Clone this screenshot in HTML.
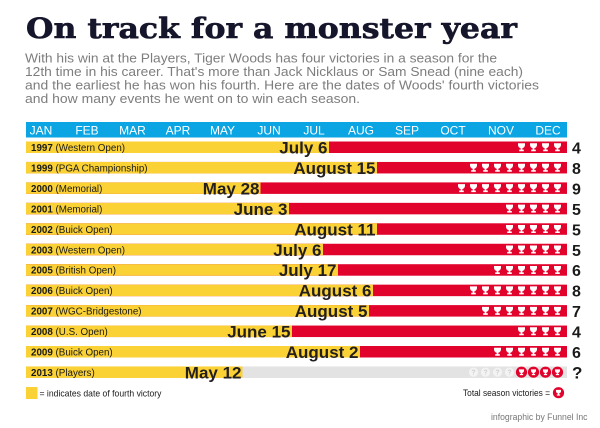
<!DOCTYPE html>
<html><head><meta charset="utf-8"><style>
html,body{margin:0;padding:0;background:#fff;}
svg{display:block;}
</style></head><body>
<svg width="600" height="428" viewBox="0 0 600 428" xmlns="http://www.w3.org/2000/svg" font-family="'Liberation Sans', sans-serif">
<defs>
<path id="t" d="M-3.5,-4 H3.5 V-2.6 C3.5,-0.2 1.8,0.9 0.8,1 V2.4 H2.3 V4 H-2.3 V2.4 H-0.8 V1 C-1.8,0.9 -3.5,-0.2 -3.5,-2.6 Z" fill="#fff"/>
</defs>
<rect width="600" height="428" fill="#fff"/>
<!-- Title -->
<text x="26" y="38" font-family="'DejaVu Serif', serif" font-weight="bold" font-size="28" fill="#15152b" stroke="#15152b" stroke-width="0.6" textLength="491" lengthAdjust="spacingAndGlyphs">On track for a monster year</text>
<!-- Paragraph -->
<g font-size="13" fill="#7d7d7d">
<text x="25" y="62.5" textLength="472" lengthAdjust="spacingAndGlyphs">With his win at the Players, Tiger Woods has four victories in a season for the</text>
<text x="25" y="76" textLength="498" lengthAdjust="spacingAndGlyphs">12th time in his career. That's more than Jack Nicklaus or Sam Snead (nine each)</text>
<text x="25" y="89.5" textLength="514" lengthAdjust="spacingAndGlyphs">and the earliest he has won his fourth. Here are the dates of Woods' fourth victories</text>
<text x="25" y="103" textLength="335" lengthAdjust="spacingAndGlyphs">and how many events he went on to win each season.</text>
</g>
<!-- Header -->
<rect x="26" y="122" width="541" height="15.5" fill="#0aa5e2"/>
<g font-size="12" fill="#fff" text-anchor="middle">
<text x="41" y="134.5">JAN</text>
<text x="87" y="134.5">FEB</text>
<text x="132.5" y="134.5">MAR</text>
<text x="178" y="134.5">APR</text>
<text x="222.5" y="134.5">MAY</text>
<text x="269" y="134.5">JUN</text>
<text x="314" y="134.5">JUL</text>
<text x="361" y="134.5">AUG</text>
<text x="407" y="134.5">SEP</text>
<text x="453" y="134.5">OCT</text>
<text x="501" y="134.5">NOV</text>
<text x="548" y="134.5">DEC</text>
</g>

<!-- Rows -->
<g id="rows">
<rect x="26" y="141.5" width="541" height="11.5" fill="#e2032d"/>
<rect x="26" y="141.5" width="303" height="11.5" fill="#fbd236"/>
<rect x="26" y="161.95" width="541" height="11.5" fill="#e2032d"/>
<rect x="26" y="161.95" width="351" height="11.5" fill="#fbd236"/>
<rect x="26" y="182.4" width="541" height="11.5" fill="#e2032d"/>
<rect x="26" y="182.4" width="234.5" height="11.5" fill="#fbd236"/>
<rect x="26" y="202.85" width="541" height="11.5" fill="#e2032d"/>
<rect x="26" y="202.85" width="263" height="11.5" fill="#fbd236"/>
<rect x="26" y="223.3" width="541" height="11.5" fill="#e2032d"/>
<rect x="26" y="223.3" width="351" height="11.5" fill="#fbd236"/>
<rect x="26" y="243.75" width="541" height="11.5" fill="#e2032d"/>
<rect x="26" y="243.75" width="297" height="11.5" fill="#fbd236"/>
<rect x="26" y="264.2" width="541" height="11.5" fill="#e2032d"/>
<rect x="26" y="264.2" width="312" height="11.5" fill="#fbd236"/>
<rect x="26" y="284.65" width="541" height="11.5" fill="#e2032d"/>
<rect x="26" y="284.65" width="347" height="11.5" fill="#fbd236"/>
<rect x="26" y="305.1" width="541" height="11.5" fill="#e2032d"/>
<rect x="26" y="305.1" width="343" height="11.5" fill="#fbd236"/>
<rect x="26" y="325.55" width="541" height="11.5" fill="#e2032d"/>
<rect x="26" y="325.55" width="266" height="11.5" fill="#fbd236"/>
<rect x="26" y="346" width="541" height="11.5" fill="#e2032d"/>
<rect x="26" y="346" width="334" height="11.5" fill="#fbd236"/>
<rect x="26" y="366.45" width="541" height="11.5" fill="#e3e3e3"/>
<rect x="26" y="366.45" width="216.5" height="11.5" fill="#fbd236"/>
</g>

<!-- Row labels -->
<g font-size="9.8" fill="#1a1a1a">
<text x="31" y="151"><tspan font-weight="bold">1997</tspan> (Western Open)</text>
<text x="31" y="171.45"><tspan font-weight="bold">1999</tspan> (PGA Championship)</text>
<text x="31" y="191.9"><tspan font-weight="bold">2000</tspan> (Memorial)</text>
<text x="31" y="212.35"><tspan font-weight="bold">2001</tspan> (Memorial)</text>
<text x="31" y="232.8"><tspan font-weight="bold">2002</tspan> (Buick Open)</text>
<text x="31" y="253.25"><tspan font-weight="bold">2003</tspan> (Western Open)</text>
<text x="31" y="273.7"><tspan font-weight="bold">2005</tspan> (British Open)</text>
<text x="31" y="294.15"><tspan font-weight="bold">2006</tspan> (Buick Open)</text>
<text x="31" y="314.6"><tspan font-weight="bold">2007</tspan> (WGC-Bridgestone)</text>
<text x="31" y="335.05"><tspan font-weight="bold">2008</tspan> (U.S. Open)</text>
<text x="31" y="355.5"><tspan font-weight="bold">2009</tspan> (Buick Open)</text>
<text x="31" y="375.95"><tspan font-weight="bold">2013</tspan> (Players)</text>
</g>

<!-- Date labels -->
<g font-size="17" font-weight="bold" fill="#231f20" text-anchor="end">
<text x="327.5" y="153.5">July 6</text>
<text x="375.5" y="173.95">August 15</text>
<text x="259.5" y="194.4">May 28</text>
<text x="287.5" y="214.85">June 3</text>
<text x="375.5" y="235.3">August 11</text>
<text x="321.5" y="255.75">July 6</text>
<text x="336.5" y="276.2">July 17</text>
<text x="371.5" y="296.65">August 6</text>
<text x="367.5" y="317.1">August 5</text>
<text x="290.5" y="337.55">June 15</text>
<text x="358.5" y="358">August 2</text>
<text x="241.5" y="378.45">May 12</text>
</g>

<!-- Right numbers -->
<g font-size="16" font-weight="bold" fill="#1a1a1a">
<text x="572" y="153.5">4</text>
<text x="572" y="173.95">8</text>
<text x="572" y="194.4">9</text>
<text x="572" y="214.85">5</text>
<text x="572" y="235.3">5</text>
<text x="572" y="255.75">5</text>
<text x="572" y="276.2">6</text>
<text x="572" y="296.65">8</text>
<text x="572" y="317.1">7</text>
<text x="572" y="337.55">4</text>
<text x="572" y="358">6</text>
<text x="572" y="378.6" font-size="17">?</text>
</g>

<!-- Trophies -->
<g>
<use href="#t" x="521.5" y="147.25"/><use href="#t" x="533.5" y="147.25"/><use href="#t" x="545.5" y="147.25"/><use href="#t" x="557.5" y="147.25"/>
<use href="#t" x="473.5" y="167.7"/><use href="#t" x="485.5" y="167.7"/><use href="#t" x="497.5" y="167.7"/><use href="#t" x="509.5" y="167.7"/><use href="#t" x="521.5" y="167.7"/><use href="#t" x="533.5" y="167.7"/><use href="#t" x="545.5" y="167.7"/><use href="#t" x="557.5" y="167.7"/>
<use href="#t" x="461.5" y="188.15"/><use href="#t" x="473.5" y="188.15"/><use href="#t" x="485.5" y="188.15"/><use href="#t" x="497.5" y="188.15"/><use href="#t" x="509.5" y="188.15"/><use href="#t" x="521.5" y="188.15"/><use href="#t" x="533.5" y="188.15"/><use href="#t" x="545.5" y="188.15"/><use href="#t" x="557.5" y="188.15"/>
<use href="#t" x="509.5" y="208.6"/><use href="#t" x="521.5" y="208.6"/><use href="#t" x="533.5" y="208.6"/><use href="#t" x="545.5" y="208.6"/><use href="#t" x="557.5" y="208.6"/>
<use href="#t" x="509.5" y="229.05"/><use href="#t" x="521.5" y="229.05"/><use href="#t" x="533.5" y="229.05"/><use href="#t" x="545.5" y="229.05"/><use href="#t" x="557.5" y="229.05"/>
<use href="#t" x="509.5" y="249.5"/><use href="#t" x="521.5" y="249.5"/><use href="#t" x="533.5" y="249.5"/><use href="#t" x="545.5" y="249.5"/><use href="#t" x="557.5" y="249.5"/>
<use href="#t" x="497.5" y="269.95"/><use href="#t" x="509.5" y="269.95"/><use href="#t" x="521.5" y="269.95"/><use href="#t" x="533.5" y="269.95"/><use href="#t" x="545.5" y="269.95"/><use href="#t" x="557.5" y="269.95"/>
<use href="#t" x="473.5" y="290.4"/><use href="#t" x="485.5" y="290.4"/><use href="#t" x="497.5" y="290.4"/><use href="#t" x="509.5" y="290.4"/><use href="#t" x="521.5" y="290.4"/><use href="#t" x="533.5" y="290.4"/><use href="#t" x="545.5" y="290.4"/><use href="#t" x="557.5" y="290.4"/>
<use href="#t" x="485.5" y="310.85"/><use href="#t" x="497.5" y="310.85"/><use href="#t" x="509.5" y="310.85"/><use href="#t" x="521.5" y="310.85"/><use href="#t" x="533.5" y="310.85"/><use href="#t" x="545.5" y="310.85"/><use href="#t" x="557.5" y="310.85"/>
<use href="#t" x="521.5" y="331.3"/><use href="#t" x="533.5" y="331.3"/><use href="#t" x="545.5" y="331.3"/><use href="#t" x="557.5" y="331.3"/>
<use href="#t" x="497.5" y="351.75"/><use href="#t" x="509.5" y="351.75"/><use href="#t" x="521.5" y="351.75"/><use href="#t" x="533.5" y="351.75"/><use href="#t" x="545.5" y="351.75"/><use href="#t" x="557.5" y="351.75"/>
</g>

<!-- 2013 row icons -->
<g>
<circle cx="473.5" cy="372.2" r="4.6" fill="#f3f3f3"/>
<circle cx="485.5" cy="372.2" r="4.6" fill="#f3f3f3"/>
<circle cx="497.5" cy="372.2" r="4.6" fill="#f3f3f3"/>
<circle cx="509.5" cy="372.2" r="4.6" fill="#f3f3f3"/>
<g font-size="7" font-weight="bold" fill="#cfcfcf" text-anchor="middle">
<text x="473.5" y="374.7">?</text><text x="485.5" y="374.7">?</text><text x="497.5" y="374.7">?</text><text x="509.5" y="374.7">?</text>
</g>
<circle cx="521.5" cy="372.2" r="5.6" fill="#e2032d"/>
<circle cx="533.5" cy="372.2" r="5.6" fill="#e2032d"/>
<circle cx="545.5" cy="372.2" r="5.6" fill="#e2032d"/>
<circle cx="557.5" cy="372.2" r="5.6" fill="#e2032d"/>
<use href="#t" transform="translate(521.5 372.2) scale(0.72)"/>
<use href="#t" transform="translate(533.5 372.2) scale(0.72)"/>
<use href="#t" transform="translate(545.5 372.2) scale(0.72)"/>
<use href="#t" transform="translate(557.5 372.2) scale(0.72)"/>
</g>

<!-- Legend -->
<rect x="26" y="387" width="11.5" height="12" fill="#fbd236"/>
<text x="39.5" y="396.5" font-size="9.2" fill="#1a1a1a" textLength="122" lengthAdjust="spacingAndGlyphs">= indicates date of fourth victory</text>
<text x="463" y="396" font-size="9.2" fill="#1a1a1a" textLength="87" lengthAdjust="spacingAndGlyphs">Total season victories =</text>
<circle cx="558.5" cy="392.7" r="5.6" fill="#e2032d"/>
<use href="#t" transform="translate(558.5 392.7) scale(0.72)"/>

<text x="491" y="420" font-size="8.8" fill="#777" textLength="96.5" lengthAdjust="spacingAndGlyphs">infographic by Funnel Inc</text>
</svg>
</body></html>
